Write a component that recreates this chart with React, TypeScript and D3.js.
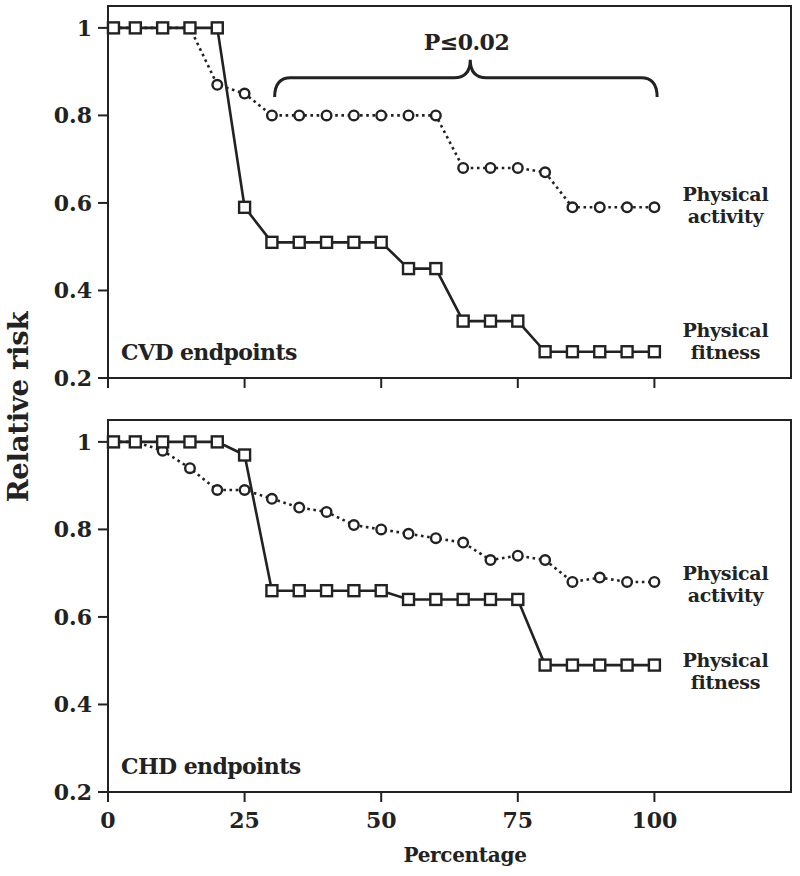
import React from "react";
import * as d3 from "d3";

const percentages = [1, 5, 10, 15, 20, 25, 30, 35, 40, 45, 50, 55, 60, 65, 70, 75, 80, 85, 90, 95, 100];
const cvdFitness = [1, 1, 1, 1, 1, 0.59, 0.51, 0.51, 0.51, 0.51, 0.51, 0.45, 0.45, 0.33, 0.33, 0.33, 0.26, 0.26, 0.26, 0.26, 0.26];
const cvdActivity = [1, 1, 1, 1, 0.87, 0.85, 0.8, 0.8, 0.8, 0.8, 0.8, 0.8, 0.8, 0.68, 0.68, 0.68, 0.67, 0.59, 0.59, 0.59, 0.59];
const chdFitness = [1, 1, 1, 1, 1, 0.97, 0.66, 0.66, 0.66, 0.66, 0.66, 0.64, 0.64, 0.64, 0.64, 0.64, 0.49, 0.49, 0.49, 0.49, 0.49];
const chdActivity = [1, 1, 0.98, 0.94, 0.89, 0.89, 0.87, 0.85, 0.84, 0.81, 0.8, 0.79, 0.78, 0.77, 0.73, 0.74, 0.73, 0.68, 0.69, 0.68, 0.68];

const xTicks = [0, 25, 50, 75, 100];
const yTicks = [0.2, 0.4, 0.6, 0.8, 1];
const yTickLabels = ["0.2", "0.4", "0.6", "0.8", "1"];

const FONT = "'DejaVu Serif', serif";

type PanelProps = {
  top: number;
  bottom: number;
  fitness: number[];
  activity: number[];
  title: string;
  activityLabelY: number;
  fitnessLabelY: number;
  showXLabels: boolean;
  brace?: boolean;
};

const xScale = d3.scaleLinear().domain([0, 125]).range([108, 791]);

function Panel(p: PanelProps) {
  const y = d3.scaleLinear().domain([0.2, 1.05]).range([p.bottom, p.top]);
  const fitPts = percentages.map((x, i) => [x, p.fitness[i]] as [number, number]);
  const actPts = percentages.map((x, i) => [x, p.activity[i]] as [number, number]);
  const line = d3
    .line<[number, number]>()
    .x((d) => xScale(d[0]))
    .y((d) => y(d[1]));
  const x0 = xScale(0);
  const x1 = xScale(125);
  const labelX = xScale(113);
  let bracePath = "";
  if (p.brace) {
    const bx1 = xScale(30.5);
    const bx2 = xScale(100.5);
    const bm = xScale(66.3);
    const yb = y(0.842);
    const yh = y(0.886);
    const yt = y(0.927);
    const r = 16;
    bracePath = `M${bx1},${yb} Q${bx1},${yh} ${bx1 + r},${yh} L${bm - r},${yh} Q${bm},${yh} ${bm},${yt} Q${bm},${yh} ${bm + r},${yh} L${bx2 - r},${yh} Q${bx2},${yh} ${bx2},${yb}`;
  }
  return (
    <g>
      <rect x={x0} y={p.top} width={x1 - x0} height={p.bottom - p.top} fill="none" stroke="#222" strokeWidth={2} />
      {yTicks.map((t, i) => (
        <g key={t}>
          <line x1={x0 - 10} x2={x0} y1={y(t)} y2={y(t)} stroke="#222" strokeWidth={2} />
          <text x={x0 - 16} y={y(t)} dy="0.36em" textAnchor="end" fontFamily={FONT} fontWeight="bold" fontSize={22} fill="#222">
            {yTickLabels[i]}
          </text>
        </g>
      ))}
      {xTicks.map((t) => (
        <g key={t}>
          <line x1={xScale(t)} x2={xScale(t)} y1={p.bottom} y2={p.bottom + 10} stroke="#222" strokeWidth={2} />
          {p.showXLabels && (
            <text x={xScale(t)} y={p.bottom + 36} textAnchor="middle" fontFamily={FONT} fontWeight="bold" fontSize={22} fill="#222">
              {t}
            </text>
          )}
        </g>
      ))}
      <path d={line(actPts) || ""} fill="none" stroke="#222" strokeWidth={2.6} strokeDasharray="2.6,3.6" />
      {actPts.map((d, i) => (
        <circle key={"c" + i} cx={xScale(d[0])} cy={y(d[1])} r={4.8} fill="white" stroke="#222" strokeWidth={2.4} />
      ))}
      <path d={line(fitPts) || ""} fill="none" stroke="#222" strokeWidth={2.6} />
      {fitPts.map((d, i) => (
        <rect key={"s" + i} x={xScale(d[0]) - 5.5} y={y(d[1]) - 5.5} width={11} height={11} fill="white" stroke="#222" strokeWidth={2.4} />
      ))}
      <text x={x0 + 13} y={p.bottom - 18} fontFamily={FONT} fontWeight="bold" fontSize={22} fill="#222" letterSpacing={-0.6}>
        {p.title}
      </text>
      <text textAnchor="middle" fontFamily={FONT} fontWeight="bold" fontSize={19} fill="#222" letterSpacing={-0.3}>
        <tspan x={labelX} y={y(p.activityLabelY) - 5}>Physical</tspan>
        <tspan x={labelX} y={y(p.activityLabelY) + 17}>activity</tspan>
      </text>
      <text textAnchor="middle" fontFamily={FONT} fontWeight="bold" fontSize={19} fill="#222" letterSpacing={-0.3}>
        <tspan x={labelX} y={y(p.fitnessLabelY) - 5}>Physical</tspan>
        <tspan x={labelX} y={y(p.fitnessLabelY) + 17}>fitness</tspan>
      </text>
      {p.brace && (
        <g>
          <path d={bracePath} fill="none" stroke="#222" strokeWidth={3} />
          <text x={xScale(65.6)} y={y(0.95)} textAnchor="middle" fontFamily={FONT} fontWeight="bold" fontSize={22} fill="#222" letterSpacing={-0.5}>
            P≤0.02
          </text>
        </g>
      )}
    </g>
  );
}

export default function App() {
  return (
    <svg width={800} height={876} style={{ position: "absolute", left: 0, top: 0, background: "white" }}>
      <rect x={0} y={0} width={800} height={876} fill="white" />
      <Panel top={6} bottom={378} fitness={cvdFitness} activity={cvdActivity} title="CVD endpoints" activityLabelY={0.593} fitnessLabelY={0.282} showXLabels={false} brace />
      <Panel top={420} bottom={792} fitness={chdFitness} activity={chdActivity} title="CHD endpoints" activityLabelY={0.673} fitnessLabelY={0.474} showXLabels={true} />
      <text transform="translate(28,407) rotate(-90)" textAnchor="middle" fontFamily={FONT} fontWeight="bold" fontSize={27.5} fill="#222" letterSpacing={-0.3}>
        Relative risk
      </text>
      <text x={465} y={862} textAnchor="middle" fontFamily={FONT} fontWeight="bold" fontSize={20} fill="#222" letterSpacing={-0.3}>
        Percentage
      </text>
    </svg>
  );
}
